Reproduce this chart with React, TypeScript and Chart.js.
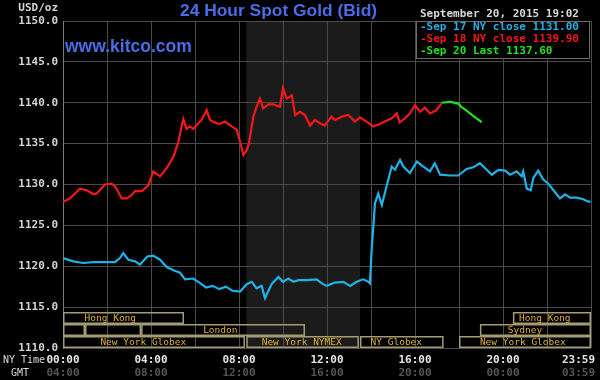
import { useEffect, useRef } from "react";
import { Chart, registerables } from "chart.js";

Chart.register(...registerables);

// ---- data ----
const sep17Hours = [0, 0.47, 0.92, 1.38, 1.83, 2.36, 2.59, 2.74, 2.97, 3.27, 3.5, 3.83, 4.1, 4.41, 4.71, 5.02, 5.32, 5.55, 5.92, 6.2, 6.5, 6.8, 7.1, 7.4, 7.7, 8.05, 8.35, 8.58, 8.8, 9.03, 9.18, 9.48, 9.79, 10.0, 10.24, 10.47, 10.7, 11.08, 11.53, 11.76, 11.98, 12.36, 12.74, 13.05, 13.35, 13.65, 13.88, 13.95, 14.03, 14.18, 14.33, 14.49, 14.7, 14.94, 15.09, 15.32, 15.47, 15.77, 16.08, 16.38, 16.68, 16.9, 17.14, 17.6, 17.97, 18.35, 18.65, 18.95, 19.26, 19.49, 19.79, 20.1, 20.32, 20.62, 20.85, 20.92, 21.08, 21.26, 21.38, 21.6, 21.83, 22.06, 22.29, 22.59, 22.82, 23.05, 23.35, 23.65, 23.88, 23.98];
const sep17Values = [1121.0, 1120.6, 1120.4, 1120.5, 1120.5, 1120.5, 1121.0, 1121.6, 1120.8, 1120.6, 1120.2, 1121.2, 1121.3, 1120.8, 1119.9, 1119.5, 1119.2, 1118.4, 1118.5, 1118.0, 1117.4, 1117.6, 1117.2, 1117.5, 1117.0, 1116.9, 1117.8, 1118.1, 1117.3, 1117.6, 1116.1, 1117.8, 1118.7, 1118.1, 1118.5, 1118.1, 1118.3, 1118.3, 1118.4, 1117.9, 1117.6, 1118.0, 1118.1, 1117.6, 1118.1, 1118.4, 1118.1, 1117.9, 1122.0, 1127.7, 1128.9, 1127.5, 1129.7, 1132.2, 1131.8, 1133.0, 1132.2, 1131.4, 1132.8, 1132.2, 1131.6, 1132.6, 1131.2, 1131.1, 1131.1, 1131.9, 1132.1, 1132.6, 1131.8, 1131.2, 1131.8, 1131.7, 1131.2, 1131.6, 1131.0, 1131.6, 1129.5, 1129.3, 1130.8, 1131.7, 1130.6, 1130.1, 1129.3, 1128.3, 1128.8, 1128.4, 1128.4, 1128.2, 1127.9, 1127.9];

const sep18Hours = [0, 0.32, 0.77, 1.08, 1.38, 1.53, 1.91, 2.21, 2.36, 2.67, 2.89, 3.12, 3.27, 3.58, 3.88, 4.1, 4.41, 4.71, 5.02, 5.24, 5.39, 5.47, 5.62, 5.77, 5.92, 6.15, 6.3, 6.53, 6.68, 6.9, 7.1, 7.36, 7.67, 7.9, 8.05, 8.2, 8.35, 8.45, 8.65, 8.8, 8.95, 9.1, 9.33, 9.56, 9.86, 10.0, 10.17, 10.4, 10.55, 10.77, 11.0, 11.23, 11.45, 11.68, 11.9, 12.2, 12.36, 12.67, 12.97, 13.27, 13.5, 13.8, 14.1, 14.4, 14.7, 14.94, 15.17, 15.3, 15.55, 15.77, 16.0, 16.23, 16.45, 16.68, 16.98, 17.2];
const sep18Values = [1127.9, 1128.3, 1129.5, 1129.3, 1128.8, 1128.9, 1130.0, 1130.1, 1129.8, 1128.3, 1128.3, 1128.7, 1129.2, 1129.2, 1129.9, 1131.6, 1131.0, 1132.0, 1133.4, 1135.2, 1137.1, 1138.0, 1136.8, 1137.1, 1136.8, 1137.5, 1137.9, 1139.1, 1137.9, 1137.6, 1137.4, 1137.7, 1137.1, 1136.7, 1135.2, 1133.6, 1134.2, 1135.0, 1138.3, 1139.5, 1140.5, 1139.3, 1139.8, 1139.8, 1139.5, 1141.8, 1140.5, 1140.9, 1138.5, 1138.9, 1138.5, 1137.2, 1137.9, 1137.5, 1137.2, 1138.3, 1137.9, 1138.3, 1138.5, 1137.7, 1138.2, 1137.7, 1137.1, 1137.4, 1137.8, 1138.1, 1138.7, 1137.6, 1138.1, 1138.7, 1139.7, 1138.9, 1139.4, 1138.7, 1139.1, 1139.9];

const sep20Hours = [17.2, 17.6, 17.97, 18.1, 18.27, 18.5, 18.73, 18.95, 19.03];
const sep20Values = [1140.0, 1140.1, 1139.9, 1139.5, 1139.2, 1138.7, 1138.2, 1137.8, 1137.6];

const seriesNames = ["Sep 17 NY close 1131.00", "Sep 18 NY close 1139.90", "Sep 20 Last 1137.60"];

const yMin = 1110;
const yMax = 1150;
const yStep = 5;

const labelHours = [0, 4, 8, 12, 16, 20, 24];
const nyTimeLabels = ["00:00", "04:00", "08:00", "12:00", "16:00", "20:00", "23:59"];
const gmtTimeLabels = ["04:00", "08:00", "12:00", "16:00", "20:00", "00:00", "03:59"];

// trading sessions (NY time hours)
const sessionNames = ["Hong Kong", "", "", "London", "New York Globex", "New York NYMEX", "NY Globex", "New York Globex", "Sydney", "Hong Kong"];
const sessionStart = [0, 0, 1, 3.55, 0, 8.33, 13.5, 18, 18.95, 20.45];
const sessionEnd = [5.5, 1, 3.55, 11, 8.27, 13.45, 17.3, 24, 24, 24];
const sessionRow = [0, 1, 1, 1, 2, 2, 2, 2, 1, 0];
const sessionLabelHour = [2.15, 0, 0, 7.15, 3.65, 10.85, 15.15, 20.9, 21.0, 21.9];

const nymexShadeStart = 8.33;
const nymexShadeEnd = 13.5;

const titleText = "24 Hour Spot Gold (Bid)";
const siteText = "www.kitco.com";
const dateText = "September 20, 2015 19:02";

const toPoints = (hs: number[], vs: number[]) => hs.map((h, i) => ({ x: h, y: vs[i] }));

const MONO = '"DejaVu Sans Mono", "Liberation Mono", monospace';
const SANS = '"Liberation Sans", Arial, sans-serif';

const decorPlugin = {
  id: "decor",
  beforeDraw(chart: any) {
    const { ctx, chartArea: a, scales } = chart;
    ctx.save();
    ctx.fillStyle = "#000";
    ctx.fillRect(0, 0, chart.width, chart.height);
    const x0 = scales.x.getPixelForValue(nymexShadeStart);
    const x1 = scales.x.getPixelForValue(nymexShadeEnd);
    ctx.fillStyle = "#1b1b1b";
    ctx.fillRect(x0, a.top, x1 - x0, a.bottom - a.top);
    ctx.restore();
  },
  afterDraw(chart: any) {
    const { ctx, chartArea: a, scales } = chart;
    const xs = scales.x;
    ctx.save();

    // session boxes
    const rowH = 12;
    ctx.lineWidth = 1.5;
    ctx.strokeStyle = "#a39b74";
    ctx.font = `9.5px ${MONO}`;
    ctx.textAlign = "center";
    ctx.textBaseline = "middle";
    sessionNames.forEach((name, i) => {
      const x0 = xs.getPixelForValue(sessionStart[i]);
      const x1 = xs.getPixelForValue(sessionEnd[i]);
      const top = a.bottom - rowH * 3 + rowH * sessionRow[i];
      ctx.strokeRect(x0 + 0.75, top + 0.75, x1 - x0 - 1.5, rowH - 1.5);
      if (name) {
        ctx.fillStyle = "#e2b135";
        ctx.fillText(name, xs.getPixelForValue(sessionLabelHour[i]), top + rowH / 2 + 0.5);
      }
    });

    // x labels (NY time + GMT)
    ctx.font = `bold 11px ${MONO}`;
    labelHours.forEach((h, i) => {
      const w = ctx.measureText(nyTimeLabels[i]).width;
      const px = Math.min(xs.getPixelForValue(h), chart.width - 5 - w / 2);
      ctx.fillStyle = "#e6e6e6";
      ctx.fillText(nyTimeLabels[i], px, a.bottom + 12);
      ctx.fillStyle = "#555555";
      ctx.fillText(gmtTimeLabels[i], px, a.bottom + 25);
    });
    ctx.font = `10px ${MONO}`;
    ctx.fillStyle = "#d8d8d8";
    ctx.textAlign = "left";
    ctx.fillText("NY Time", 3, a.bottom + 12);
    ctx.textAlign = "center";
    ctx.fillText("GMT", 20, a.bottom + 25);

    // unit
    ctx.font = `bold 11px ${MONO}`;
    ctx.textAlign = "right";
    ctx.fillStyle = "#d4d4d4";
    ctx.fillText("USD/oz", 58, 8);

    // title + site
    ctx.textAlign = "left";
    ctx.fillStyle = "#4a6de6";
    ctx.font = `bold 17.4px ${SANS}`;
    ctx.fillText(titleText, 180, 11);
    ctx.font = `bold 17.5px ${SANS}`;
    ctx.fillText(siteText, 65, 47);

    // legend
    ctx.fillStyle = "#000";
    ctx.fillRect(416, 21, 174, 37);
    ctx.strokeStyle = "#6c6c6c";
    ctx.lineWidth = 1;
    ctx.strokeRect(416.5, 21.5, 173, 37);
    ctx.font = `bold 11px ${MONO}`;
    ctx.fillStyle = "#d8d8d8";
    ctx.fillText(dateText, 420, 14);
    chart.data.datasets.forEach((ds: any, i: number) => {
      ctx.fillStyle = ds.borderColor;
      ctx.fillText("-" + ds.label, 420, 27 + i * 12);
    });

    ctx.restore();
  },
};

export default function App() {
  const ref = useRef<HTMLCanvasElement | null>(null);

  useEffect(() => {
    if (!ref.current) return;
    const chart = new Chart(ref.current, {
      type: "line",
      data: {
        datasets: [
          { label: seriesNames[0], data: toPoints(sep17Hours, sep17Values), borderColor: "#1fb2e6", borderWidth: 2.2, pointRadius: 0, tension: 0 },
          { label: seriesNames[1], data: toPoints(sep18Hours, sep18Values), borderColor: "#f41818", borderWidth: 2.2, pointRadius: 0, tension: 0 },
          { label: seriesNames[2], data: toPoints(sep20Hours, sep20Values), borderColor: "#22e022", borderWidth: 2.2, pointRadius: 0, tension: 0 },
        ],
      },
      options: {
        responsive: false,
        animation: false,
        devicePixelRatio: 1,
        layout: { padding: { left: 0, top: 21, right: 9, bottom: 0 } },
        plugins: { legend: { display: false }, tooltip: { enabled: false }, title: { display: false } },
        scales: {
          x: {
            type: "linear",
            min: 0,
            max: 24,
            grid: { color: "#4b4b4b", lineWidth: 1, drawTicks: false },
            border: { display: false },
            ticks: { display: false, stepSize: 2, autoSkip: false },
            afterFit: (s: any) => {
              s.height = 32;
              s.paddingLeft = 0;
              s.paddingRight = 0;
            },
          },
          y: {
            min: yMin,
            max: yMax,
            grid: { color: "#4b4b4b", lineWidth: 1, drawTicks: false },
            border: { display: true, color: "#7a7a7a", width: 1 },
            ticks: {
              stepSize: yStep,
              padding: 5,
              color: "#d4d4d4",
              font: { family: MONO, size: 11, weight: "bold" },
              callback: (v: any) => Number(v).toFixed(1),
            },
            afterFit: (s: any) => {
              s.width = 63;
              s.paddingTop = 0;
              s.paddingBottom = 0;
            },
          },
        },
      } as any,
      plugins: [decorPlugin],
    });
    return () => chart.destroy();
  }, []);

  return (
    <div style={{ position: "fixed", left: 0, top: 0, width: 600, height: 380, background: "#000" }}>
      <canvas ref={ref} width={600} height={380} style={{ display: "block" }} />
    </div>
  );
}
